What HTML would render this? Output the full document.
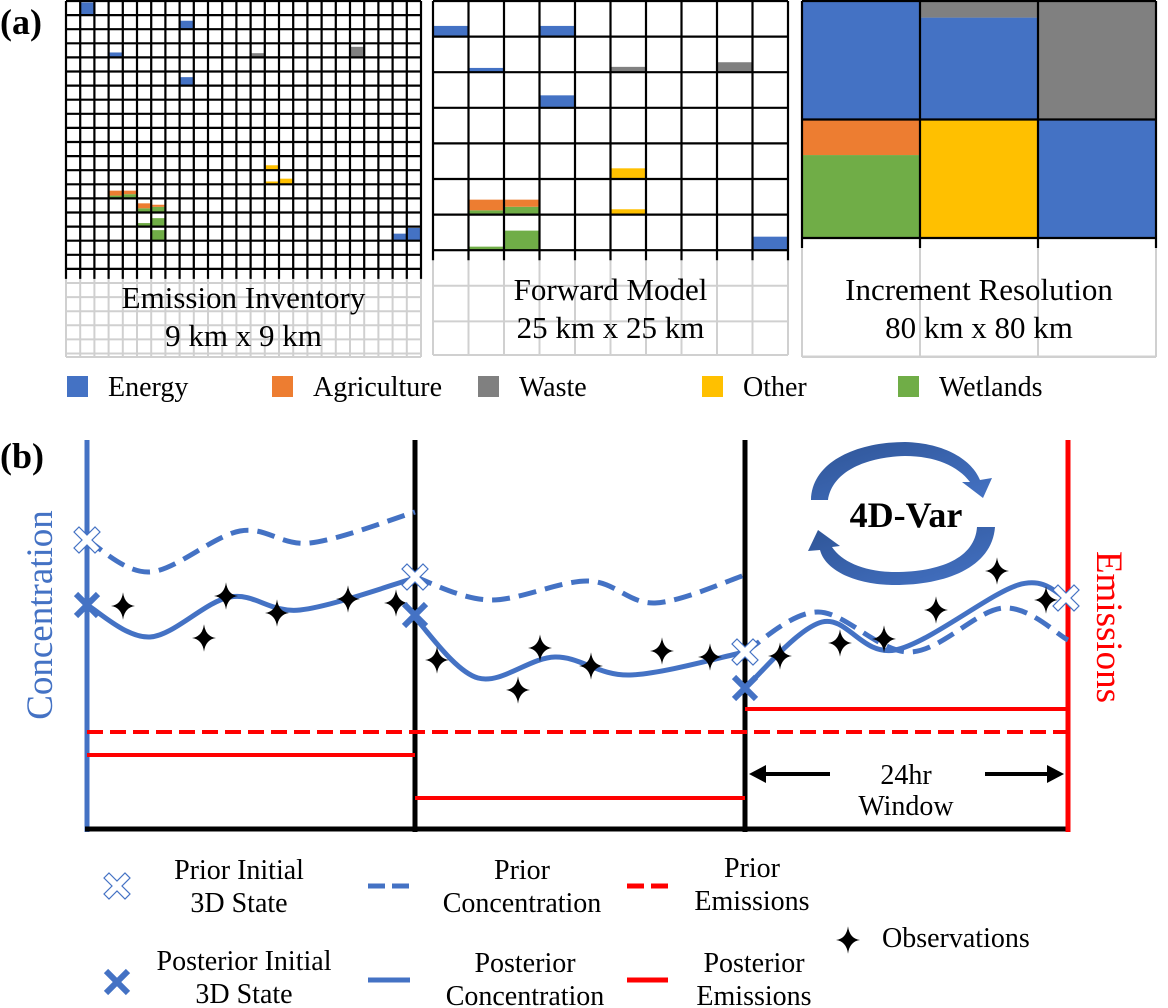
<!DOCTYPE html>
<html><head><meta charset="utf-8"><style>
body{margin:0;background:#fff}
svg{display:block}
text{font-family:"Liberation Serif",serif}
</style></head><body>
<svg id="fig" width="1168" height="1008" viewBox="0 0 1168 1008" xmlns="http://www.w3.org/2000/svg">
<defs>
<linearGradient id="arrG" x1="0" y1="0" x2="1" y2="1"><stop offset="0" stop-color="#2f5597"/><stop offset="1" stop-color="#4472c4"/></linearGradient>
</defs>
<text x="0" y="34" font-size="36" font-weight="bold">(a)</text>
<text x="0" y="468" font-size="36" font-weight="bold">(b)</text>
<g id="grids"></g>
<g id="legA"></g>
<g id="panelB"></g>
<g id="legB"></g>
</svg>
<script>
const NS='http://www.w3.org/2000/svg';
function mk(tag,attrs,parent){const e=document.createElementNS(NS,tag);for(const k in attrs)e.setAttribute(k,attrs[k]);parent.appendChild(e);return e;}
const C={E:'#4472c4',A:'#ed7d31',W:'#808080',O:'#ffc000',L:'#70ad47'};

// Panel (a) cell data: [col,row,category,fraction from bottom, offset from bottom]
const inventoryCells=[[1,0,'E',0.9,0],[8,1,'E',0.6,0],[3,3,'E',0.35,0],[13,3,'W',0.3,0],[20,3,'W',0.75,0],[8,5,'E',0.6,0],
[14,11,'O',0.35,0],[14,12,'O',0.2,0],[15,12,'O',0.4,0],[3,13,'L',0.2,0],[3,13,'A',0.35,0.2],[4,13,'L',0.3,0],[4,13,'A',0.25,0.3],
[5,14,'L',0.3,0],[5,14,'A',0.35,0.3],[6,14,'L',0.4,0],[6,14,'A',0.15,0.4],[4,15,'L',0.08,0],[5,15,'L',0.25,0],[6,15,'L',0.6,0],[6,16,'L',0.75,0],[23,16,'E',0.5,0],[24,16,'E',0.9,0]];
const forwardCells=[[0,0,'E',0.3,0],[3,0,'E',0.3,0],[1,1,'E',0.12,0],[5,1,'W',0.15,0],[8,1,'W',0.28,0],[3,2,'E',0.35,0],[5,4,'O',0.3,0],
[1,5,'L',0.12,0],[1,5,'A',0.3,0.12],[2,5,'L',0.22,0],[2,5,'A',0.2,0.22],[5,5,'O',0.15,0],[1,6,'L',0.1,0],[2,6,'L',0.55,0],[9,6,'E',0.38,0]];
const incrementCells=[[0,0,'E',1,0],[1,0,'E',0.86,0],[1,0,'W',0.14,0.86],[2,0,'W',1,0],[0,1,'L',0.7,0],[0,1,'A',0.3,0.7],[1,1,'O',1,0],[2,1,'E',1,0]];

const G=document.getElementById('grids');
function grid(x0,y0,cw,ch,cols,blackRows,totalH,cells,name,l1,l2,ty){
  const g=mk('g',{},G);
  
  
  const W=cw*cols;
  const rowsTot=Math.round(totalH/ch);
  for(let c=0;c<=cols;c++)mk('line',{x1:x0+c*cw,y1:y0,x2:x0+c*cw,y2:y0+totalH,stroke:'#d0d0d0','stroke-width':2},g);
  for(let r=blackRows;r<=rowsTot;r++)mk('line',{x1:x0,y1:y0+Math.min(r*ch,totalH),x2:x0+W,y2:y0+Math.min(r*ch,totalH),stroke:'#d0d0d0','stroke-width':2},g);
  mk('line',{x1:x0,y1:y0+totalH,x2:x0+W,y2:y0+totalH,stroke:'#d0d0d0','stroke-width':2},g);
  cells.forEach(([c,r,k,f,o])=>{
    const cell=mk('rect',{x:x0+c*cw,y:y0+(r+1-o-f)*ch,width:cw,height:f*ch,fill:C[k]},g);
    
    
  });
  const bh=blackRows*ch;
  for(let c=0;c<=cols;c++)mk('line',{x1:x0+c*cw,y1:y0,x2:x0+c*cw,y2:y0+bh+10,stroke:'#000','stroke-width':2.2},g);
  for(let r=0;r<=blackRows;r++)mk('line',{x1:x0,y1:y0+r*ch,x2:x0+W,y2:y0+r*ch,stroke:'#000','stroke-width':2.2},g);
  const t1=mk('text',{x:x0+W/2,y:ty,'font-size':31,'text-anchor':'middle'},g);t1.textContent=l1;
  
  
  const t2=mk('text',{x:x0+W/2,y:ty+38,'font-size':31,'text-anchor':'middle'},g);t2.textContent=l2;
  
  
}
grid(66,1,14.2,14.1,25,19,356,inventoryCells,'emission-inventory-grid','Emission Inventory','9 km x 9 km',308);
grid(433,1,35.5,35.6,10,7,354,forwardCells,'forward-model-grid','Forward Model','25 km x 25 km',300);
grid(802,1,118,118.5,3,2,356,incrementCells,'increment-resolution-grid','Increment Resolution','80 km x 80 km',300);

// legend (a)
const legACats=['Energy','Agriculture','Waste','Other','Wetlands'];
const legAKeys=['E','A','W','O','L'];
const legAX=[67,272,478,702,898];
const LA=document.getElementById('legA');
legACats.forEach((n,i)=>{
  const s=mk('rect',{x:legAX[i],y:376,width:21,height:21,fill:C[legAKeys[i]]},LA);
  
  
  const t=mk('text',{x:legAX[i]+41,y:396,'font-size':28},LA);t.textContent=n;
  
  
});

// Panel (b) data
const priorConc=[[[87,540],[150,572],[240,531],[310,543],[415,512]],[[415,577],[490,600],[588,581],[655,603],[745,575]],[[745,652],[818,612],[910,652],[1003,608],[1068,640]]];
const postConc=[[[87,605],[150,637],[230,597],[300,610],[415,578]],[[415,618],[478,678],[555,657],[630,675],[745,652]],[[745,688],[822,622],[895,650],[1018,585],[1066,598]]];
const priorX=[[87,540],[415,577],[745,652],[1066,598]];
const postX=[[87,605],[415,615],[745,688]];
const obs=[[123,606],[204,638],[226,596],[277,613],[348,599],[396,603],[437,660],[518,690],[540,648],[591,666],[662,651],[710,657],[780,656],[840,643],[884,639],[936,610],[997,571],[1046,600]];
const priorEm=732;
const postEm=[[87,415,755],[415,745,798],[745,1068,709]];

const B=document.getElementById('panelB');
function smooth(p){let d=`M${p[0][0]},${p[0][1]}`;for(let i=0;i<p.length-1;i++){const p0=p[i-1]||p[i],p1=p[i],p2=p[i+1],p3=p[i+2]||p2;
 d+=` C${p1[0]+(p2[0]-p0[0])/6},${p1[1]+(p2[1]-p0[1])/6} ${p2[0]-(p3[0]-p1[0])/6},${p2[1]-(p3[1]-p1[1])/6} ${p2[0]},${p2[1]}`;}return d;}
function star(x,y,s,parent){const e=mk('path',{d:`M${x},${y-s*1.15} Q${x+1.5},${y-1.5} ${x+s},${y} Q${x+1.5},${y+1.5} ${x},${y+s*1.15} Q${x-1.5},${y+1.5} ${x-s},${y} Q${x-1.5},${y-1.5} ${x},${y-s*1.15}Z`,fill:'#000'},parent);return e;}
function xmark(x,y,open,parent){
  if(open){const e=mk('path',{d:`M${x-8},${y-13} L${x},${y-5} L${x+8},${y-13} L${x+13},${y-8} L${x+5},${y} L${x+13},${y+8} L${x+8},${y+13} L${x},${y+5} L${x-8},${y+13} L${x-13},${y+8} L${x-5},${y} L${x-13},${y-8}Z`,fill:'#fff',stroke:'#4472c4','stroke-width':1.2},parent);return e;}
  const g=mk('g',{stroke:'#4472c4','stroke-width':6},parent);
  mk('line',{x1:x-11,y1:y-11,x2:x+11,y2:y+11},g);mk('line',{x1:x-11,y1:y+11,x2:x+11,y2:y-11},g);return g;
}
let e;
e=mk('line',{x1:87,y1:440,x2:87,y2:832,stroke:'#4472c4','stroke-width':5},B);
e=mk('line',{x1:85,y1:829,x2:1070,y2:829,stroke:'#000','stroke-width':5},B);
[415,745].forEach(x=>{e=mk('line',{x1:x,y1:440,x2:x,y2:832,stroke:'#000','stroke-width':5},B);});
e=mk('line',{x1:1068,y1:440,x2:1068,y2:832,stroke:'#ff0000','stroke-width':5},B);
e=mk('line',{x1:87,y1:priorEm,x2:1068,y2:priorEm,stroke:'#ff0000','stroke-width':4,'stroke-dasharray':'16 7'},B);
postEm.forEach(([a,b,y])=>{e=mk('line',{x1:a,y1:y,x2:b,y2:y,stroke:'#ff0000','stroke-width':4},B);});
priorConc.forEach(p=>{e=mk('path',{d:smooth(p),fill:'none',stroke:'#4472c4','stroke-width':5,'stroke-dasharray':'18 9'},B);});
postConc.forEach(p=>{e=mk('path',{d:smooth(p),fill:'none',stroke:'#4472c4','stroke-width':5},B);});
obs.forEach(([x,y])=>{e=star(x,y,12,B);});
postX.forEach(([x,y])=>{e=xmark(x,y,false,B);});
priorX.forEach(([x,y])=>{e=xmark(x,y,true,B);});
e=mk('text',{x:0,y:0,'font-size':37,fill:'#4472c4','text-anchor':'middle',transform:'translate(52,615) rotate(-90)'},B);e.textContent='Concentration';
e=mk('text',{x:0,y:0,'font-size':37,fill:'#ff0000','text-anchor':'middle',transform:'translate(1097,627) rotate(90)'},B);e.textContent='Emissions';
const wg=mk('g',{},B);
mk('line',{x1:762,y1:774,x2:830,y2:774,stroke:'#000','stroke-width':4},wg);
mk('path',{d:'M749,774 L766,765 L766,783Z',fill:'#000'},wg);
mk('line',{x1:985,y1:774,x2:1050,y2:774,stroke:'#000','stroke-width':4},wg);
mk('path',{d:'M1064,774 L1047,765 L1047,783Z',fill:'#000'},wg);
e=mk('text',{x:906,y:784,'font-size':28,'text-anchor':'middle'},wg);e.textContent='24hr';
e=mk('text',{x:906,y:815,'font-size':28,'text-anchor':'middle'},wg);e.textContent='Window';
const cg=mk('g',{},B);
mk('path',{d:'M811,500 C812,460 860,442 905,442 C945,443 972,460 980,480 L992,478 L983,498 L962,482 L970,482 C958,466 935,456 905,456 C865,457 832,472 828,500Z',fill:'url(#arrG)'},cg);
mk('path',{d:'M995,527 C992,568 945,585 895,585 C855,585 825,570 820,550 L808,551 L818,530 L840,546 L832,547 C842,562 865,572 895,572 C940,572 975,558 977,527Z',fill:'url(#arrG)'},cg);
e=mk('text',{x:906,y:527,'font-size':36,'font-weight':'bold','text-anchor':'middle'},cg);e.textContent='4D-Var';

const L=document.getElementById('legB');
function txt(x,y,s,anchor,name){const t=mk('text',{x:x,y:y,'font-size':28,'text-anchor':anchor},L);t.textContent=s;}
e=xmark(117,886,true,L);
e=xmark(117,982,false,L);
txt(239,879,'Prior Initial','middle','legend-prior-initial');txt(239,912,'3D State','middle','legend-prior-initial-2');
txt(244,970,'Posterior Initial','middle','legend-posterior-initial');txt(244,1003,'3D State','middle','legend-posterior-initial-2');
e=mk('line',{x1:368,y1:886,x2:410,y2:886,stroke:'#4472c4','stroke-width':5,'stroke-dasharray':'17 7'},L);
e=mk('line',{x1:368,y1:980,x2:410,y2:980,stroke:'#4472c4','stroke-width':5},L);
txt(522,879,'Prior','middle','legend-prior-concentration');txt(522,912,'Concentration','middle','legend-prior-concentration-2');
txt(525,972,'Posterior','middle','legend-posterior-concentration');txt(525,1005,'Concentration','middle','legend-posterior-concentration-2');
e=mk('line',{x1:627,y1:886,x2:668,y2:886,stroke:'#ff0000','stroke-width':5,'stroke-dasharray':'17 7'},L);
e=mk('line',{x1:627,y1:980,x2:668,y2:980,stroke:'#ff0000','stroke-width':5},L);
txt(752,877,'Prior','middle','legend-prior-emissions');txt(752,910,'Emissions','middle','legend-prior-emissions-2');
txt(754,972,'Posterior','middle','legend-posterior-emissions');txt(754,1005,'Emissions','middle','legend-posterior-emissions-2');
e=star(848,940,12,L);
txt(882,947,'Observations','start','legend-observations');
</script>
</body></html>
